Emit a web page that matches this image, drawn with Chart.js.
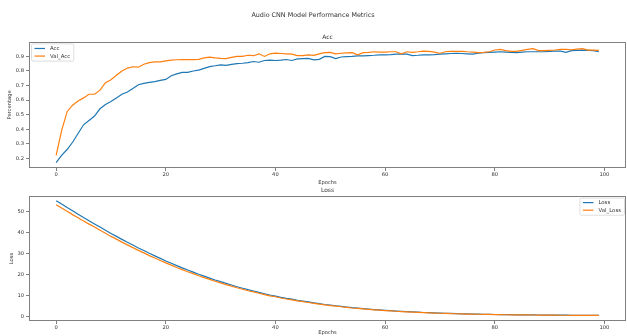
<!DOCTYPE html>
<html>
<head>
<meta charset="utf-8">
<script src="https://cdn.jsdelivr.net/npm/chart.js@4.4.1/dist/chart.umd.min.js"></script>
<style>
    body { margin: 0; background: #fff; }
    canvas { position: absolute; left: 0; }
    #accChart { top: 0; }
    #lossChart { top: 186px; }
</style>
</head>
<body>
<canvas id="accChart" width="627" height="186"></canvas>
<canvas id="lossChart" width="627" height="150"></canvas>
<script>
const epochs = Array.from({length: 100}, (_, i) => i);

const acc = [
    0.17, 0.22, 0.26, 0.31, 0.37, 0.43, 0.46, 0.49, 0.54, 0.57,
    0.59, 0.615, 0.64, 0.655, 0.68, 0.705, 0.715, 0.722, 0.727, 0.735,
    0.742, 0.767, 0.78, 0.79, 0.79, 0.80, 0.806, 0.818, 0.83, 0.836,
    0.842, 0.838, 0.845, 0.851, 0.853, 0.858, 0.865, 0.86, 0.872, 0.874,
    0.872, 0.875, 0.879, 0.872, 0.883, 0.885, 0.886, 0.876, 0.88, 0.90,
    0.898, 0.885, 0.896, 0.898, 0.90, 0.904, 0.904, 0.906, 0.908, 0.911,
    0.911, 0.913, 0.916, 0.918, 0.916, 0.906, 0.908, 0.911, 0.911, 0.913,
    0.916, 0.918, 0.92, 0.922, 0.92, 0.918, 0.916, 0.922, 0.926, 0.928,
    0.93, 0.932, 0.93, 0.928, 0.926, 0.93, 0.932, 0.932, 0.932, 0.932,
    0.935, 0.937, 0.937, 0.928, 0.94, 0.942, 0.944, 0.942, 0.94, 0.932
];
const valAcc = [
    0.22, 0.39, 0.52, 0.565, 0.593, 0.615, 0.64, 0.64, 0.668, 0.72,
    0.74, 0.77, 0.80, 0.82, 0.829, 0.826, 0.846, 0.857, 0.862, 0.862,
    0.87, 0.875, 0.877, 0.878, 0.879, 0.878, 0.88, 0.89, 0.895, 0.89,
    0.887, 0.885, 0.893, 0.90, 0.90, 0.908, 0.905, 0.918, 0.90, 0.918,
    0.922, 0.92, 0.918, 0.916, 0.905, 0.905, 0.911, 0.907, 0.918, 0.926,
    0.928, 0.918, 0.922, 0.924, 0.926, 0.911, 0.926, 0.928, 0.932, 0.93,
    0.93, 0.932, 0.932, 0.918, 0.932, 0.928, 0.932, 0.937, 0.935, 0.93,
    0.922, 0.932, 0.935, 0.935, 0.935, 0.932, 0.93, 0.926, 0.928, 0.932,
    0.944, 0.948, 0.94, 0.935, 0.935, 0.942, 0.948, 0.953, 0.94, 0.94,
    0.942, 0.944, 0.948, 0.948, 0.946, 0.95, 0.953, 0.944, 0.944, 0.942
];
const loss = [
    55.0, 53.4, 51.8, 50.2, 48.6, 47.0, 45.5, 44.0, 42.5, 41.0,
    39.5, 38.1, 36.7, 35.3, 34.0, 32.6, 31.4, 30.1, 28.9, 27.7,
    26.5, 25.4, 24.3, 23.2, 22.2, 21.2, 20.2, 19.3, 18.4, 17.5,
    16.7, 15.9, 15.1, 14.3, 13.6, 12.9, 12.3, 11.6, 11.0, 10.4,
    9.9, 9.3, 8.8, 8.4, 7.9, 7.5, 7.1, 6.7, 6.3, 5.9,
    5.6, 5.3, 5.0, 4.7, 4.4, 4.2, 3.95, 3.72, 3.52, 3.32,
    3.13, 2.96, 2.8, 2.64, 2.5, 2.37, 2.25, 2.13, 2.02, 1.92,
    1.82, 1.74, 1.66, 1.58, 1.51, 1.44, 1.38, 1.33, 1.28, 1.23,
    1.18, 1.14, 1.1, 1.07, 1.04, 1.01, 0.98, 0.96, 0.93, 0.91,
    0.89, 0.87, 0.86, 0.84, 0.83, 0.82, 0.81, 0.8, 0.79, 0.79
];
const valLoss = [
    53.1, 51.5, 50.0, 48.4, 46.9, 45.4, 43.9, 42.5, 41.0, 39.6,
    38.1, 36.8, 35.4, 34.1, 32.8, 31.5, 30.3, 29.0, 27.9, 26.7,
    25.6, 24.5, 23.4, 22.4, 21.4, 20.5, 19.5, 18.6, 17.8, 16.9,
    16.1, 15.3, 14.6, 13.8, 13.1, 12.4, 11.9, 11.2, 10.6, 10.0,
    9.55, 8.97, 8.49, 8.11, 7.62, 7.24, 6.85, 6.47, 6.08, 5.69,
    5.4, 5.11, 4.83, 4.54, 4.25, 4.05, 3.81, 3.59, 3.4, 3.2,
    3.02, 2.86, 2.7, 2.55, 2.41, 2.29, 2.17, 2.06, 1.95, 1.85,
    1.76, 1.68, 1.6, 1.52, 1.46, 1.39, 1.33, 1.28, 1.24, 1.19,
    1.14, 1.1, 1.06, 1.03, 1.0, 0.97, 0.95, 0.93, 0.9, 0.88,
    0.86, 0.84, 0.83, 0.81, 0.8, 0.79, 0.78, 0.77, 0.76, 0.76
];

const epochTicks = [0, 20, 40, 60, 80, 100];
const accTicks = [0.2, 0.3, 0.4, 0.5, 0.6, 0.7, 0.8, 0.9];
const lossTicks = [0, 10, 20, 30, 40, 50];

const BLUE = '#1f77b4';
const ORANGE = '#ff7f0e';
const INK = '#333333';
const FRAME = '#808080';

Chart.defaults.font.family = 'DejaVu Sans';
Chart.defaults.color = INK;

function points(values) {
    return epochs.map((e, i) => ({x: e, y: values[i]}));
}

function line(label, values, color, order) {
    return {
        label: label,
        data: points(values),
        borderColor: color,
        backgroundColor: color,
        borderWidth: 1.2,
        pointRadius: 0,
        tension: 0,
        fill: false,
        order: order
    };
}

// axes box, like matplotlib spines
const frame = {
    id: 'frame',
    afterDatasetsDraw(chart) {
        const a = chart.chartArea;
        const ctx = chart.ctx;
        ctx.save();
        ctx.strokeStyle = FRAME;
        ctx.lineWidth = 1;
        ctx.strokeRect(Math.round(a.left) + 0.5, Math.round(a.top) + 0.5,
            Math.round(a.right - a.left) - 1, Math.round(a.bottom - a.top) - 1);
        ctx.restore();
    }
};

// small boxed legend inside the axes
const boxLegend = {
    id: 'boxLegend',
    afterDraw(chart, args, opts) {
        const a = chart.chartArea;
        const ctx = chart.ctx;
        const sets = chart.data.datasets;
        ctx.save();
        ctx.font = '5.4px "DejaVu Sans"';
        const textW = Math.max(...sets.map(d => ctx.measureText(d.label).width));
        const w = textW + 22;
        const rowH = 7.6;
        const h = sets.length * rowH + 2;
        const left = opts.side === 'right' ? a.right - 1.5 - w : a.left + 2.5;
        const top = a.top + 2;
        ctx.fillStyle = 'rgba(255,255,255,0.85)';
        ctx.strokeStyle = '#d6d6d6';
        ctx.lineWidth = 0.8;
        ctx.beginPath();
        ctx.roundRect(left, top, w, h, 1.5);
        ctx.fill();
        ctx.stroke();
        sets.forEach((d, i) => {
            const y = top + 4.6 + i * rowH;
            ctx.strokeStyle = d.borderColor;
            ctx.lineWidth = 1.2;
            ctx.beginPath();
            ctx.moveTo(left + 3, y);
            ctx.lineTo(left + 13.5, y);
            ctx.stroke();
            ctx.fillStyle = INK;
            ctx.textBaseline = 'middle';
            ctx.fillText(d.label, left + 18.5, y + 0.3);
        });
        ctx.restore();
    }
};

function xScale(height) {
    return {
        type: 'linear',
        min: -4.95,
        max: 103.95,
        afterBuildTicks: s => { s.ticks = epochTicks.map(v => ({value: v})); },
        afterFit: s => { s.height = height; },
        grid: {drawOnChartArea: false, tickLength: 3, color: FRAME},
        border: {display: false},
        ticks: {font: {size: 5.2}, padding: 1, maxRotation: 0, autoSkip: false},
        title: {display: true, text: 'Epochs', font: {size: 5.2}, padding: {top: 0, bottom: 0}}
    };
}

function yScale(min, max, tickValues, label, titlePad, fmt) {
    return {
        min: min,
        max: max,
        afterBuildTicks: s => { s.ticks = tickValues.map(v => ({value: v})); },
        afterFit: s => { s.width = 29; },
        grid: {drawOnChartArea: false, tickLength: 3, color: FRAME},
        border: {display: false},
        ticks: {font: {size: 5.2}, padding: 2, callback: fmt},
        title: {display: true, text: label, font: {size: 5.2}, padding: {top: titlePad, bottom: 0}}
    };
}

new Chart(document.getElementById('accChart'), {
    type: 'line',
    data: {
        datasets: [
            line('Acc', acc, BLUE, 2),
            line('Val_Acc', valAcc, ORANGE, 1)
        ]
    },
    options: {
        responsive: false,
        animation: false,
        layout: {padding: {top: 0, right: 1, bottom: 0, left: 0}},
        plugins: {
            legend: {display: false},
            tooltip: {enabled: false},
            title: {
                display: true,
                text: 'Audio CNN Model Performance Metrics',
                font: {size: 6.4, weight: 'normal'},
                padding: {top: 12, bottom: 7}
            },
            subtitle: {
                display: true,
                text: 'Acc',
                fullSize: false,
                font: {size: 6},
                padding: {top: 7.6, bottom: 0.4}
            },
            boxLegend: {side: 'left'}
        },
        scales: {
            x: xScale(18),
            y: yScale(0.133, 1.0, accTicks, 'Percentage', 7, v => v.toFixed(1))
        }
    },
    plugins: [frame, boxLegend]
});

new Chart(document.getElementById('lossChart'), {
    type: 'line',
    data: {
        datasets: [
            line('Loss', loss, BLUE, 2),
            line('Val_Loss', valLoss, ORANGE, 1)
        ]
    },
    options: {
        responsive: false,
        animation: false,
        layout: {padding: {top: 0, right: 1, bottom: 0, left: 0}},
        plugins: {
            legend: {display: false},
            tooltip: {enabled: false},
            title: {
                display: true,
                text: 'Loss',
                fullSize: false,
                font: {size: 6, weight: 'normal'},
                padding: {top: 0.9, bottom: 1.9}
            },
            boxLegend: {side: 'right'}
        },
        scales: {
            x: xScale(15),
            y: yScale(-1.9, 57.2, lossTicks, 'Loss', 8.5, v => String(v))
        }
    },
    plugins: [frame, boxLegend]
});
</script>
</body>
</html>
